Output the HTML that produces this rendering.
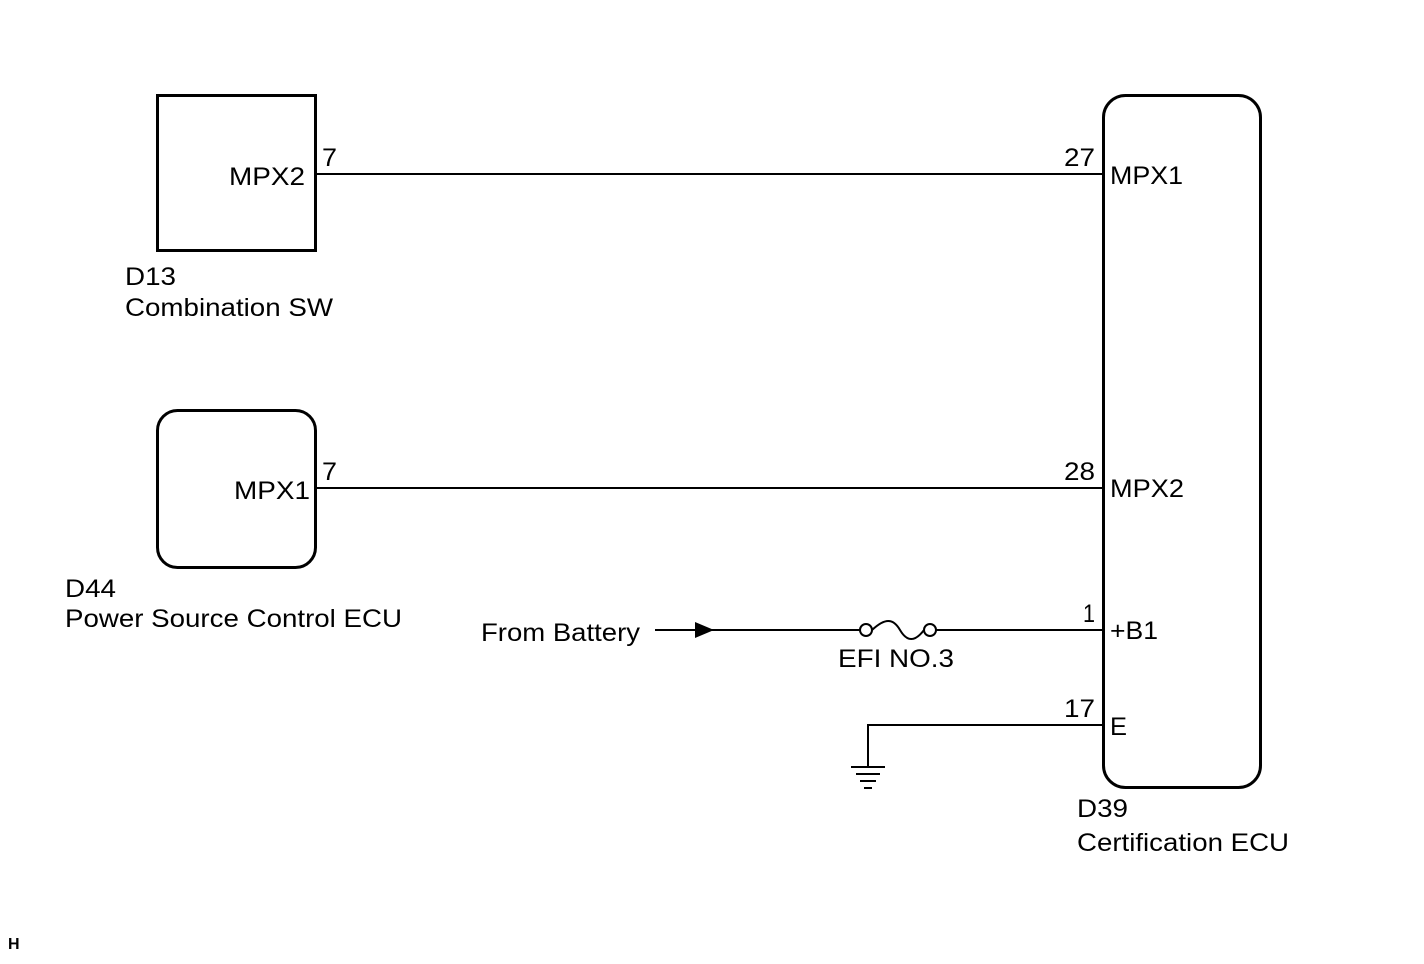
<!DOCTYPE html>
<html><head><style>
body{margin:0;background:#fff;}
svg text{font-family:"Liberation Sans",Arial,sans-serif;font-size:25px;fill:#000;}
</style></head><body>
<svg width="1424" height="959" xmlns="http://www.w3.org/2000/svg">
<rect x="157.5" y="95.5" width="158" height="155" fill="none" stroke="#000" stroke-width="3"/>
<rect x="157.5" y="410.5" width="158" height="157" rx="20" fill="none" stroke="#000" stroke-width="3"/>
<rect x="1103.5" y="95.5" width="157" height="692" rx="22" fill="none" stroke="#000" stroke-width="3"/>
<g stroke="#000" stroke-width="2" fill="none">
<line x1="316" y1="174" x2="1103" y2="174"/>
<line x1="316" y1="488" x2="1103" y2="488"/>
<line x1="655" y1="630" x2="860" y2="630"/>
<line x1="936" y1="630" x2="1103" y2="630"/>
<circle cx="866" cy="630" r="6"/>
<circle cx="930" cy="630" r="6"/>
<path d="M872,630 C885,618 893,618 900,630 C907,642 915,642 924,630"/>
<polyline points="1103,725 868,725 868,767"/>
<line x1="851" y1="767" x2="885" y2="767"/>
<line x1="856" y1="774" x2="880" y2="774"/>
<line x1="860" y1="781" x2="876" y2="781"/>
<line x1="864" y1="788" x2="872" y2="788"/>
</g>
<polygon points="695,622 714,630 695,638" fill="#000"/>
<text lengthAdjust="spacingAndGlyphs" x="229" y="185" textLength="76">MPX2</text>
<text lengthAdjust="spacingAndGlyphs" x="322" y="166" textLength="15">7</text>
<text lengthAdjust="spacingAndGlyphs" x="125" y="285" textLength="51">D13</text>
<text lengthAdjust="spacingAndGlyphs" x="125" y="316" textLength="208">Combination SW</text>
<text lengthAdjust="spacingAndGlyphs" x="234" y="499" textLength="76">MPX1</text>
<text lengthAdjust="spacingAndGlyphs" x="322" y="480" textLength="15">7</text>
<text lengthAdjust="spacingAndGlyphs" x="65" y="597" textLength="51">D44</text>
<text lengthAdjust="spacingAndGlyphs" x="65" y="627" textLength="337">Power Source Control ECU</text>
<text lengthAdjust="spacingAndGlyphs" x="481" y="641" textLength="159">From Battery</text>
<text lengthAdjust="spacingAndGlyphs" x="838" y="667" textLength="116">EFI NO.3</text>
<text lengthAdjust="spacingAndGlyphs" x="1064" y="166" textLength="31">27</text>
<text lengthAdjust="spacingAndGlyphs" x="1110" y="184" textLength="73">MPX1</text>
<text lengthAdjust="spacingAndGlyphs" x="1064" y="480" textLength="31">28</text>
<text lengthAdjust="spacingAndGlyphs" x="1110" y="497" textLength="74">MPX2</text>
<text lengthAdjust="spacingAndGlyphs" x="1083" y="622" textLength="12">1</text>
<text lengthAdjust="spacingAndGlyphs" x="1110" y="639" textLength="48">+B1</text>
<text lengthAdjust="spacingAndGlyphs" x="1064" y="717" textLength="31">17</text>
<text lengthAdjust="spacingAndGlyphs" x="1110" y="735" textLength="17">E</text>
<text lengthAdjust="spacingAndGlyphs" x="1077" y="817" textLength="51">D39</text>
<text lengthAdjust="spacingAndGlyphs" x="1077" y="851" textLength="212">Certification ECU</text>
<text x="8" y="949" style="font-size:16px;font-weight:bold">H</text>
</svg>
</body></html>
